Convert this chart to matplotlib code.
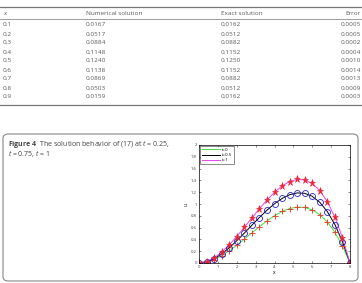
import matplotlib
matplotlib.use("Agg")
import matplotlib.pyplot as plt
from matplotlib.patches import FancyBboxPatch
from matplotlib.lines import Line2D

plt.rcParams['font.family'] = ['Open Sans', 'DejaVu Sans']
plt.rcParams['mathtext.fontset'] = 'custom'
plt.rcParams['mathtext.rm'] = 'Open Sans'
plt.rcParams['mathtext.it'] = 'Open Sans:italic'
plt.rcParams['mathtext.bf'] = 'Open Sans:bold'

# table data
x_col = ['0.1', '0.2', '0.3', '0.4', '0.5', '0.6', '0.7', '0.8', '0.9']
numerical = ['0.0167', '0.0517', '0.0884', '0.1148', '0.1240', '0.1138', '0.0869', '0.0503', '0.0159']
exact = ['0.0162', '0.0512', '0.0882', '0.1152', '0.1250', '0.1152', '0.0882', '0.0512', '0.0162']
error = ['0.0005', '0.0005', '0.0002', '0.0004', '0.0010', '0.0014', '0.0013', '0.0009', '0.0003']

# figure data
xs = [0, 0.4, 0.8, 1.2, 1.6, 2.0, 2.4, 2.8, 3.2, 3.6, 4.0, 4.4, 4.8,
      5.2, 5.6, 6.0, 6.4, 6.8, 7.2, 7.6, 8.0]
u_t0 = [0, 0.015, 0.058, 0.123, 0.205, 0.30, 0.404, 0.51, 0.615, 0.714, 0.80,
        0.873, 0.923, 0.948, 0.942, 0.90, 0.82, 0.695, 0.52, 0.29, 0]
u_t05 = [0, 0.019, 0.072, 0.154, 0.257, 0.377, 0.506, 0.64, 0.771, 0.895, 1.004,
         1.094, 1.157, 1.188, 1.181, 1.13, 1.028, 0.871, 0.651, 0.362, 0]
u_t1 = [0, 0.023, 0.086, 0.183, 0.307, 0.449, 0.604, 0.763, 0.92, 1.067, 1.198,
        1.305, 1.38, 1.417, 1.409, 1.348, 1.227, 1.039, 0.776, 0.432, 0]
labels = ['t=0', 't=0.5', 't=1']

W, H = 362, 283
fig = plt.figure(figsize=(W / 100, H / 100), dpi=100)
tc = '#5a5a5a'

def fy(py):
    return 1 - py / H

def fx(px):
    return px / W

# table rules
for py, lw in [(7, 0.9), (19, 0.5), (104.5, 0.9)]:
    fig.add_artist(Line2D([0, 1], [fy(py), fy(py)], color='#777777', lw=lw))

fs = 4.6
fig.text(fx(3), fy(13.5), 'x', fontsize=fs, color=tc, style='italic', va='center')
fig.text(fx(86), fy(13.5), 'Numerical solution', fontsize=fs, color=tc, va='center')
fig.text(fx(221), fy(13.5), 'Exact solution', fontsize=fs, color=tc, va='center')
fig.text(fx(361), fy(13.5), 'Error', fontsize=fs, color=tc, va='center', ha='right')
for i in range(len(x_col)):
    py = 25 + i * 9
    fig.text(fx(3), fy(py), x_col[i], fontsize=fs, color=tc, va='center')
    fig.text(fx(86), fy(py), numerical[i], fontsize=fs, color=tc, va='center')
    fig.text(fx(221), fy(py), exact[i], fontsize=fs, color=tc, va='center')
    fig.text(fx(361), fy(py), error[i], fontsize=fs, color=tc, va='center', ha='right')

# caption box
box = FancyBboxPatch((fx(3), fy(281)), fx(355), 147 / H,
                     boxstyle='round,pad=0,rounding_size=0.015',
                     transform=fig.transFigure, fill=False,
                     edgecolor='#888888', lw=0.8)
fig.add_artist(box)
fig.text(fx(8), fy(145), r'$\mathbf{Figure\ 4}$  The solution behavior of (17) at $t$ = 0.25,',
         fontsize=5.0, color='#444444', va='center')
fig.text(fx(8), fy(154), r'$t$ = 0.75, $t$ = 1',
         fontsize=5.0, color='#444444', va='center')

# plot
ax = fig.add_axes([fx(199), fy(263), fx(151), 118 / H])
line_cols = ['#44dd44', 'black', '#ee44ee']
mk_cols = ['#e8452a', '#2222cc', '#ee2233']
mks = ['+', 'o', '*']
for ys, lc, lab in zip([u_t0, u_t05, u_t1], line_cols, labels):
    ax.plot(xs, ys, color=lc, lw=0.7, label=lab)
for ys, mc, mk in zip([u_t0, u_t05, u_t1], mk_cols, mks):
    if mk == 'o':
        ax.plot(xs, ys, ls='none', marker=mk, ms=4.3, mfc='none', mec=mc, mew=0.6)
    elif mk == '+':
        ax.plot(xs, ys, ls='none', marker=mk, ms=4.5, mec=mc, mew=0.7)
    else:
        ax.plot(xs, ys, ls='none', marker=mk, ms=5.2, mfc=mc, mec=mc, mew=0.4)

ax.set_xlim(0, 8)
ax.set_ylim(0, 2)
ax.set_xticks(range(0, 9))
ax.set_yticks([0, 0.2, 0.4, 0.6, 0.8, 1, 1.2, 1.4, 1.6, 1.8, 2])
ax.set_yticklabels(['0', '0.2', '0.4', '0.6', '0.8', '1', '1.2', '1.4', '1.6', '1.8', '2'])
ax.tick_params(direction='in', length=1.5, width=0.4, labelsize=3, pad=1.5,
               top=True, right=True, colors='#333333')
for s in ax.spines.values():
    s.set_linewidth(0.5)
ax.set_xlabel('x', fontsize=3.5, labelpad=1)
ax.set_ylabel('u', fontsize=3.5, labelpad=2)
leg = ax.legend(loc='upper left', fontsize=3.2, handlelength=4, frameon=True,
                fancybox=False, edgecolor='black', borderpad=0.35,
                labelspacing=0.25, handletextpad=0.6, borderaxespad=0.3)
leg.get_frame().set_linewidth(0.4)

fig.savefig('out.png', dpi=100)
